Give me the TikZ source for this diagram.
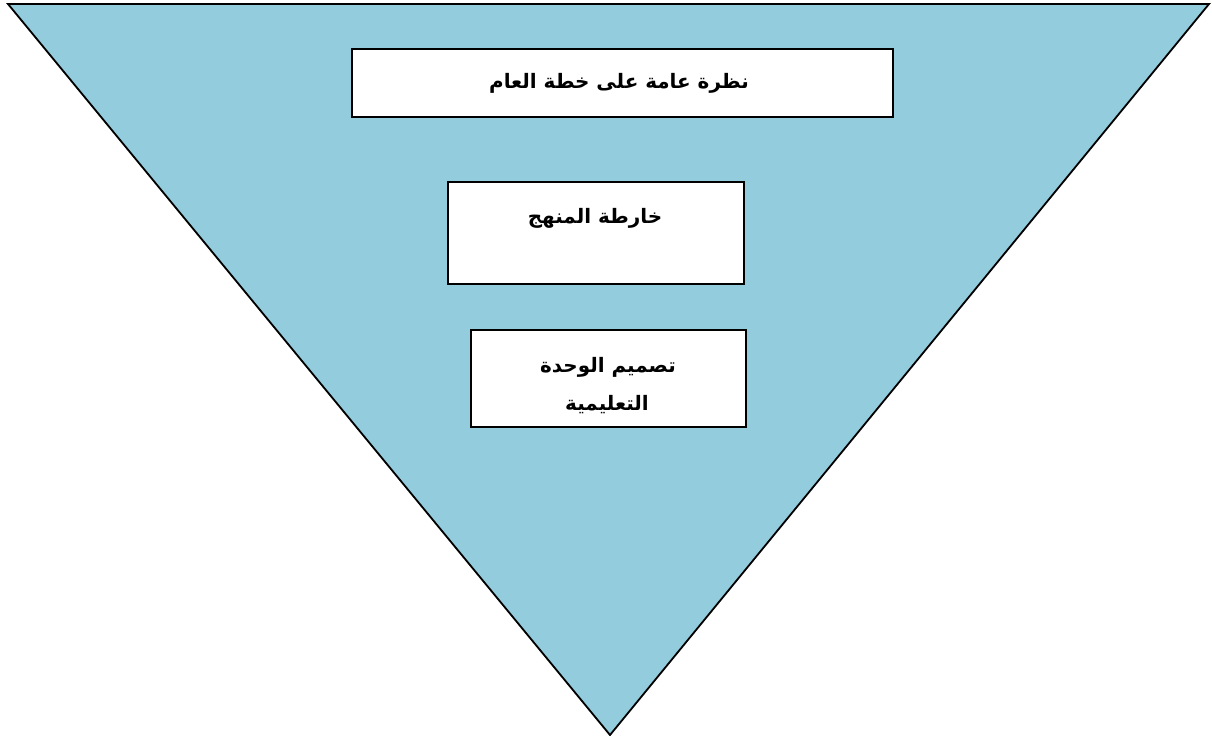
\documentclass[tikz,border=0pt]{standalone}
\usepackage{fontspec}
\newfontfamily\arabicfont[Script=Arabic]{DejaVu Sans}
\TeXXeTstate=1
\definecolor{triblue}{RGB}{147,205,221}
\tikzset{
  boxstyle/.style={draw=black, line width=2bp, fill=white, inner sep=0pt},
  labelstyle/.style={font=\arabicfont\bfseries\fontsize{20}{24}\selectfont, inner sep=0pt, align=center},
}
\begin{document}
\begin{tikzpicture}[x=1bp,y=-1bp]
\useasboundingbox (0,0) rectangle (1212,736);
\coordinate (tl) at (8,4);
\coordinate (tr) at (1209,4);
\coordinate (apex) at (610,735);
\fill[triblue] (tl) -- (tr) -- (apex) -- cycle;
\draw[line width=1.8bp, line join=miter] (tl) -- (tr) -- (apex) -- cycle;
\node[boxstyle, minimum width=541bp, minimum height=68bp] (b1) at (622.5,83) {};
\node[boxstyle, minimum width=296bp, minimum height=102bp] (b2) at (596,233) {};
\node[boxstyle, minimum width=275bp, minimum height=97bp] (b3) at (608.5,378.5) {};
\node[labelstyle] (t1) at (619,83) {\beginR نظرة عامة على خطة العام\endR};
\node[labelstyle] (t2) at (595,218) {\beginR خارطة المنهج\endR};
\node[labelstyle] (t3) at (608,367) {\beginR تصميم الوحدة\endR};
\node[labelstyle] (t4) at (607,405) {\beginR التعليمية\endR};
\end{tikzpicture}
\end{document}
